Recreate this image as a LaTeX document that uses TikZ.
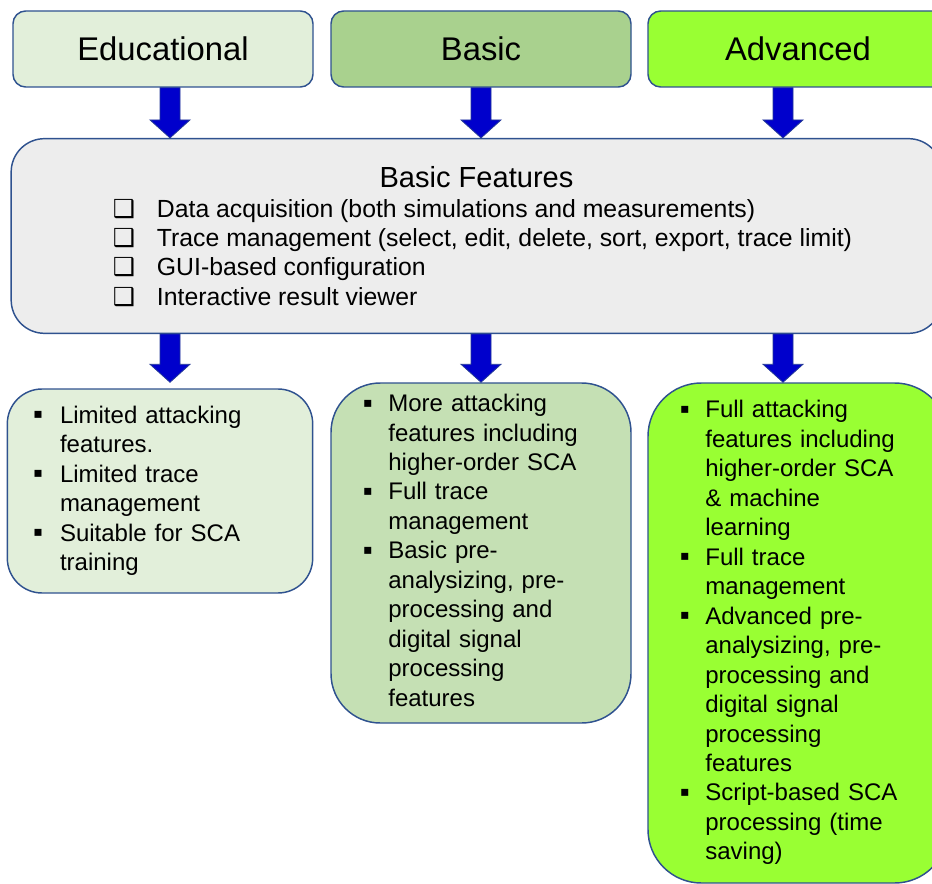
\documentclass[tikz,border=0pt]{standalone}
\usepackage{fontspec}
\setmainfont{Liberation Sans}
\newfontfamily\symfont{DejaVu Sans}
\usepackage{tikz}
\usetikzlibrary{calc}

\definecolor{eduGreen}{RGB}{226,239,218}
\definecolor{basicGreen}{RGB}{169,209,142}
\definecolor{basicLight}{RGB}{197,224,180}
\definecolor{advGreen}{RGB}{153,255,51}
\definecolor{featGray}{RGB}{237,237,237}
\definecolor{boxLine}{RGB}{47,82,143}
\definecolor{arrFill}{RGB}{0,0,204}
\definecolor{arrLine}{RGB}{36,58,150}

\newcommand{\bul}{\raisebox{3.4pt}{\symfont\fontsize{10.5}{10.5}\selectfont ▪}}
\newcommand{\cbox}{{\symfont ❑}}

\tikzset{
  level/.style={draw=boxLine, line width=1.1pt, rounded corners=9.5pt,
    minimum width=225pt, minimum height=57pt, font=\fontsize{24.6}{28}\selectfont},
  featbox/.style={draw=boxLine, line width=1.1pt, align=left,
    font=\fontsize{18}{22.1}\selectfont},
  blockarr/.style={fill=arrFill, draw=arrLine, line width=0.6pt,
    to path={let \p1=(\tikztostart), \p2=(\tikztotarget) in
      (\x1-7.5pt,\y1) -- (\x1+7.5pt,\y1) -- (\x1+7.5pt,\y2+13.5pt) -- (\x1+15pt,\y2+13.5pt)
      -- (\x1,\y2) -- (\x1-15pt,\y2+13.5pt) -- (\x1-7.5pt,\y2+13.5pt) -- cycle}}
}

\begin{document}
\begin{tikzpicture}[x=0.75pt, y=-0.75pt]
  \clip (0,0) rectangle (932,884);

  % levels
  \node[level, fill=eduGreen] (edu) at (163,49) {Educational};
  \node[level, fill=basicGreen] (basic) at (481,49) {Basic};
  \node[level, fill=advGreen] (adv) at (798,49) {Advanced};

  % common features
  \node[draw=boxLine, line width=1.1pt, fill=featGray, rounded corners=25pt,
    minimum width=698pt, minimum height=146pt, align=center,
    font=\fontsize{18.6}{22.5}\selectfont] (feats) at (476.5,236)
    {{\fontsize{21.8}{24}\selectfont\rule{0pt}{22pt}Basic Features}\\
     \fontsize{18.6}{22}\selectfont\hspace*{9pt}%
     \begin{tabular}[t]{@{}p{33pt}@{}l@{}}
       \cbox & Data acquisition (both simulations and measurements)\\
       \cbox & Trace management (select, edit, delete, sort, export, trace limit)\\
       \cbox & GUI-based configuration\\
       \cbox & Interactive result viewer
     \end{tabular}};

  % per level features
  \node[featbox, fill=eduGreen, rounded corners=26pt, text width=190pt,
    inner xsep=19.5pt, minimum height=153pt] (eduList) at (160,491)
    {\begin{tabular}{@{}p{20pt}@{}l@{}}
       \bul & Limited attacking\\
            & features.\\
       \bul & Limited trace\\
            & management\\
       \bul & Suitable for SCA\\
            & training
     \end{tabular}};
  \node[featbox, fill=basicLight, rounded corners=37pt, text width=177pt,
    inner xsep=24pt, minimum height=255pt] (basicList) at (481,553)
    {\begin{tabular}{@{}p{19pt}@{}l@{}}
       \bul & More attacking\\
            & features including\\
            & higher-order SCA\\
       \bul & Full trace\\
            & management\\
       \bul & Basic pre-\\
            & analysizing, pre-\\
            & processing and\\
            & digital signal\\
            & processing\\
            & features
     \end{tabular}};
  \node[featbox, fill=advGreen, rounded corners=40pt, text width=177pt,
    inner xsep=24pt, minimum height=375pt] (advList) at (798,633)
    {\begin{tabular}{@{}p{19pt}@{}l@{}}
       \bul & Full attacking\\
            & features including\\
            & higher-order SCA\\
            & \& machine\\
            & learning\\
       \bul & Full trace\\
            & management\\
       \bul & Advanced pre-\\
            & analysizing, pre-\\
            & processing and\\
            & digital signal\\
            & processing\\
            & features\\
       \bul & Script-based SCA\\
            & processing (time\\
            & saving)
     \end{tabular}};

  % block arrows
  \coordinate (ax1) at (170,0);
  \coordinate (ax2) at (481,0);
  \coordinate (ax3) at (783,0);
  \path[blockarr] (ax1 |- edu.south) to (ax1 |- feats.north);
  \path[blockarr] (ax2 |- basic.south) to (ax2 |- feats.north);
  \path[blockarr] (ax3 |- adv.south) to (ax3 |- feats.north);
  \path[blockarr] (ax1 |- feats.south) to ([yshift=4.5pt]ax1 |- eduList.north);
  \path[blockarr] (ax2 |- feats.south) to (ax2 |- basicList.north);
  \path[blockarr] (ax3 |- feats.south) to (ax3 |- advList.north);
\end{tikzpicture}
\end{document}
